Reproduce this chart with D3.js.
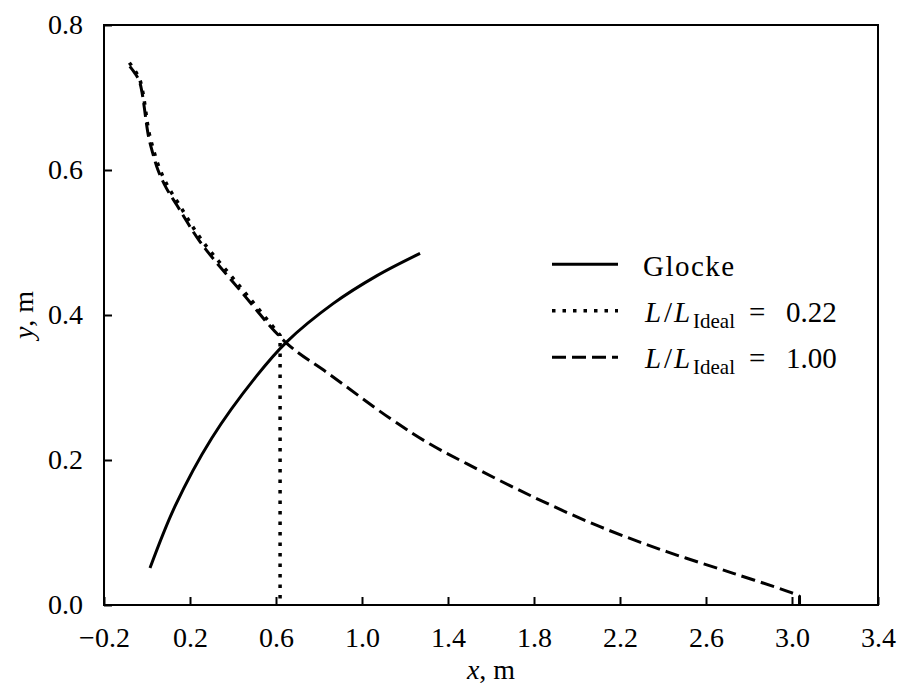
<!DOCTYPE html>
<html>
<head>
<meta charset="utf-8">
<script src="https://cdn.jsdelivr.net/npm/d3@7"></script>
<style>
  html, body { margin: 0; padding: 0; background: #fff; }
  svg text { font-family: "Liberation Serif", "Times New Roman", Times, "DejaVu Serif", serif; fill: #000; }
</style>
</head>
<body>
<svg id="chart" width="902" height="685" font-family="Liberation Serif, Times New Roman, DejaVu Serif, serif"></svg>
<script>
// ---- data ----
const xTicks = [-0.2, 0.2, 0.6, 1.0, 1.4, 1.8, 2.2, 2.6, 3.0, 3.4];
const yTicks = [0.0, 0.2, 0.4, 0.6, 0.8];

// Glocke (bell) contour
const glockeX = [0.014, 0.130, 0.301, 0.510, 0.650, 0.867, 1.068, 1.270];
const glockeY = [0.051, 0.136, 0.230, 0.316, 0.363, 0.416, 0.454, 0.485];

// L/L_Ideal = 0.22 (truncated contour + exit plane)
const shortX = [-0.082, -0.056, -0.034, -0.020, -0.009, 0.000, 0.012, 0.030, 0.057, 0.096, 0.146, 0.253, 0.439, 0.619, 0.619];
const shortY = [0.748, 0.737, 0.725, 0.708, 0.688, 0.668, 0.648, 0.628, 0.603, 0.578, 0.554, 0.504, 0.437, 0.372, 0.000];

// L/L_Ideal = 1.00 (ideal contour + exit plane)
const idealX = [-0.080, -0.055, -0.035, -0.022, -0.012, -0.003, 0.008, 0.025, 0.051, 0.090, 0.140, 0.247, 0.433, 0.650, 0.850, 1.130, 1.316, 1.487, 1.797, 2.107, 2.417, 2.727, 3.006, 3.035, 3.035];
const idealY = [0.743, 0.733, 0.722, 0.705, 0.685, 0.665, 0.645, 0.625, 0.600, 0.575, 0.551, 0.501, 0.434, 0.361, 0.318, 0.2575, 0.222, 0.195, 0.149, 0.108, 0.0736, 0.0437, 0.016, 0.012, 0.000];

// ---- layout ----
const FONT = "Liberation Serif, Times New Roman, DejaVu Serif, serif";
const svg = d3.select("#chart");
const L = 104, R = 878, T = 25, B = 605;
const x = d3.scaleLinear().domain([-0.2, 3.4]).range([L, R]);
const y = d3.scaleLinear().domain([0, 0.8]).range([B, T]);

const fmt = d => (d < 0 ? "\u2212" + Math.abs(d).toFixed(1) : d.toFixed(1));

// axes
const gx = svg.append("g").attr("transform", `translate(0,${B})`)
  .call(d3.axisBottom(x).tickValues(xTicks).tickSizeInner(-8).tickSizeOuter(0).tickPadding(22).tickFormat(fmt));
const gy = svg.append("g").attr("transform", `translate(${L},0)`)
  .call(d3.axisLeft(y).tickValues(yTicks).tickSizeInner(-8).tickSizeOuter(0).tickPadding(21).tickFormat(fmt));
[gx, gy].forEach(g => {
  g.attr("font-family", FONT).attr("font-size", 28);
  g.select(".domain").remove();
  g.selectAll(".tick line").attr("stroke", "#000").attr("stroke-width", 2);
  g.selectAll(".tick text").attr("font-size", 28).attr("font-family", FONT);
});

// frame
svg.append("rect").attr("x", L).attr("y", T).attr("width", R - L).attr("height", B - T)
  .attr("fill", "none").attr("stroke", "#000").attr("stroke-width", 2);

// lines
const zip = (xs, ys) => xs.map((v, i) => [v, ys[i]]);
const line = d3.line().x(d => x(d[0])).y(d => y(d[1])).curve(d3.curveCatmullRom.alpha(0.5));

function drawPath(xs, ys, dash, width) {
  const pts = zip(xs, ys);
  const n = pts.length;
  let d;
  if (pts[n - 1][1] === 0) {
    d = line(pts.slice(0, n - 1)) + "L" + x(pts[n - 1][0]) + "," + y(pts[n - 1][1]);
  } else {
    d = line(pts);
  }
  svg.append("path").attr("d", d).attr("fill", "none").attr("stroke", "#000")
    .attr("stroke-width", width).attr("stroke-dasharray", dash).attr("stroke-linejoin", "round");
}
drawPath(glockeX, glockeY, null, 3);
drawPath(idealX, idealY, "14,6", 3);
drawPath(shortX, shortY, "3.5,7", 3.5);

// axis labels
svg.append("text").attr("x", 491).attr("y", 679).attr("text-anchor", "middle").attr("font-size", 28).attr("font-family", FONT)
  .html('<tspan font-style="italic">x</tspan>, m');
svg.append("text").attr("transform", "translate(33,315) rotate(-90)").attr("text-anchor", "middle").attr("font-size", 28).attr("font-family", FONT)
  .html('<tspan font-style="italic">y</tspan>, m');

// legend
const leg = svg.append("g").attr("font-family", FONT);
const rows = [
  { yl: 264.3, yb: 276, dash: null, w: 3, label: "Glocke", val: null },
  { yl: 310.7, yb: 321.7, dash: "3.5,7", w: 3.5, label: null, val: "0.22" },
  { yl: 357.3, yb: 368.3, dash: "14,6", w: 3, label: null, val: "1.00" }
];
rows.forEach(r => {
  leg.append("line").attr("x1", 552).attr("x2", 618).attr("y1", r.yl).attr("y2", r.yl)
    .attr("stroke", "#000").attr("stroke-width", r.w).attr("stroke-dasharray", r.dash);
  if (r.label) {
    leg.append("text").attr("x", 643).attr("y", r.yb).attr("font-size", 29).attr("letter-spacing", 1.5)
      .attr("font-family", FONT).text(r.label);
  } else {
    const t = leg.append("text").attr("y", r.yb).attr("font-size", 29).attr("font-family", FONT);
    t.append("tspan").attr("x", 645).attr("font-style", "italic").text("L");
    t.append("tspan").attr("x", 664).text("/");
    t.append("tspan").attr("x", 674).attr("font-style", "italic").text("L");
    t.append("tspan").attr("x", 693).attr("dy", 6).attr("font-size", 21).text("Ideal");
    t.append("tspan").attr("x", 749).attr("dy", -6).text("=");
    t.append("tspan").attr("x", 786).text(r.val);
  }
});
</script>
</body>
</html>
